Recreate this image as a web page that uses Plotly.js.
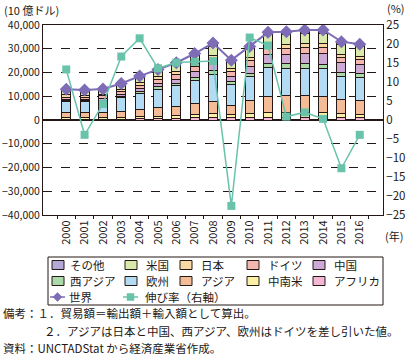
<!DOCTYPE html>
<html>
<head>
<meta charset="utf-8">
<script src="https://cdn.plot.ly/plotly-3.0.1.min.js"></script>
<style>html,body{margin:0;padding:0;background:#fff;}#chart{width:411px;height:360px;}</style>
</head>
<body>
<div id="chart"></div>
<script>
const years = ['2000','2001','2002','2003','2004','2005','2006','2007','2008','2009','2010','2011','2012','2013','2014','2015','2016'];
const africa   = [300,300,330,400,500,600,700,850,1100,900,1050,1150,1200,1150,1200,1050,950];
const latam    = [700,650,620,700,900,1050,1250,1450,1750,1300,1650,1950,2000,2000,1800,1650,1450];
const asia     = [2100,2000,2100,2400,3000,3500,3800,4500,4900,3900,5600,7000,7000,7000,6800,6000,5800];
const europe   = [4600,4700,4900,5900,6800,7900,8700,10000,11300,8800,9900,11800,11400,11600,11700,9800,9700];
const westAsia = [450,430,460,560,720,900,1050,1250,1600,1250,1450,1850,2000,2050,2000,1600,1600];
const china    = [475,510,620,850,1150,1420,1760,2170,2560,2210,2970,3640,3870,4160,4300,3960,3690];
const germany  = [1050,1060,1110,1350,1630,1750,2040,2380,2610,2050,2330,2740,2570,2650,2710,2380,2390];
const japan    = [860,750,750,855,1020,1110,1230,1330,1540,1130,1460,1680,1685,1550,1510,1270,1250];
const usa      = [2040,1870,1860,2030,2340,2630,2920,3180,3450,3000,3800,4300,4300,4300,4300,4100,4000];
const other    = [400,330,350,355,440,440,650,890,1590,660,690,790,1175,1440,1580,1190,1070];
const world    = [13000,12600,13100,15400,18500,21300,24100,28000,32400,25200,30900,36900,37200,37900,37900,33000,31900];
const growth   = [13.3,-3.9,4.2,16.7,21.5,13.6,15.1,15.3,15.5,-22.6,21.7,19.6,0.9,2.0,0.3,-12.7,-3.9];

const FONT = '"Noto Sans CJK JP", "Noto Sans", sans-serif';
const INK = '#231815';
const WORLD_C = '#7E6DB6', GROWTH_C = '#69C3AB';
// stacking order: bottom first
const barSeries = [
  {name:'アフリカ', y:africa,   color:'#F4B6D2'},
  {name:'中南米',   y:latam,    color:'#FBF1A6'},
  {name:'アジア',   y:asia,     color:'#F3BC96'},
  {name:'欧州',     y:europe,   color:'#B3DBF4'},
  {name:'西アジア', y:westAsia, color:'#ABD9A9'},
  {name:'中国',     y:china,    color:'#CDAAD5'},
  {name:'ドイツ',   y:germany,  color:'#F3B7B0'},
  {name:'日本',     y:japan,    color:'#F8D9A4'},
  {name:'米国',     y:usa,      color:'#D9E9AA'},
  {name:'その他',   y:other,    color:'#B3A9D8'}
];
const traces = barSeries.map(s => ({
  type:'bar', x:years, y:s.y, name:s.name, showlegend:false,
  marker:{color:s.color, line:{color:INK, width:1}}, hoverinfo:'skip'
}));
traces.push({
  type:'scatter', mode:'lines+markers', x:years, y:world, name:'世界', showlegend:false,
  line:{color:WORLD_C, width:2}, marker:{symbol:'diamond', size:10, color:WORLD_C}
});
traces.push({
  type:'scatter', mode:'lines+markers', x:years, y:growth, name:'伸び率（右軸）', showlegend:false,
  yaxis:'y2', line:{color:GROWTH_C, width:1.5}, marker:{symbol:'square', size:8, color:GROWTH_C}
});

const L=43, R=383, T=25, B=215;
const px = x => (x-L)/(R-L);
const py = y => (B-y)/(B-T);
const ann = (text, x, y, opts={}) => Object.assign({text, xref:'paper', yref:'paper', x:px(x), y:py(y),
  showarrow:false, xanchor:'left', yanchor:'middle', font:{family:FONT, size:11, color:INK}}, opts);

// manual legend (grid like the reference)
const shapes = [];
const annotations = [];
shapes.push({type:'rect', xref:'paper', yref:'paper', x0:px(48), x1:px(383), y0:py(257), y1:py(305),
  line:{color:INK, width:1}, fillcolor:'rgba(0,0,0,0)'});
const legendOrder = ['その他','米国','日本','ドイツ','中国','西アジア','欧州','アジア','中南米','アフリカ'];
const cols = [{s:52,t:68},{s:125,t:144},{s:180,t:199},{s:247,t:266},{s:313,t:332}];
const rows = [265, 281, 297];
legendOrder.forEach((nm, i) => {
  const s = barSeries.find(b => b.name === nm);
  const c = cols[i % 5], r = rows[Math.floor(i / 5)];
  shapes.push({type:'rect', xref:'paper', yref:'paper', x0:px(c.s), x1:px(c.s+12), y0:py(r+4.5), y1:py(r-4.5),
    line:{color:INK, width:1}, fillcolor:s.color});
  annotations.push(ann(nm, c.t, r, {font:{family:FONT, size:11.5, color:INK}}));
});
function lineItem(col, color, marker, label) {
  const r = rows[2], x0 = col.s - 2, x1 = col.s + 13, xc = (x0 + x1) / 2;
  shapes.push({type:'line', xref:'paper', yref:'paper', x0:px(x0), x1:px(x1), y0:py(r), y1:py(r),
    line:{color, width:1.5}});
  let path;
  if (marker === 'diamond') {
    path = `M ${px(xc)},${py(r-4.5)} L ${px(xc+4.5)},${py(r)} L ${px(xc)},${py(r+4.5)} L ${px(xc-4.5)},${py(r)} Z`;
  } else {
    path = `M ${px(xc-3.5)},${py(r-3.5)} L ${px(xc+3.5)},${py(r-3.5)} L ${px(xc+3.5)},${py(r+3.5)} L ${px(xc-3.5)},${py(r+3.5)} Z`;
  }
  shapes.push({type:'path', xref:'paper', yref:'paper', path, fillcolor:color, line:{color, width:0.5}});
  annotations.push(ann(label, col.t - 1, r, {font:{family:FONT, size:11.5, color:INK}}));
}
lineItem(cols[0], WORLD_C, 'diamond', '世界');
lineItem(cols[1], GROWTH_C, 'square', '伸び率（右軸）');

annotations.push(
  ann('(10 億ドル)', 2, 10),
  ann('(%)', 385, 8, {font:{family:FONT, size:11, color:INK}}),
  ann('(年)', 383, 236),
  ann('備考：１．貿易額＝輸出額＋輸入額として算出。', 1, 313, {font:{family:FONT, size:11.5, color:INK}}),
  ann('２．アジアは日本と中国、西アジア、欧州はドイツを差し引いた値。', 42, 331, {font:{family:FONT, size:11.5, color:INK}}),
  ann('資料：UNCTADStat から経済産業省作成。', 1, 348, {font:{family:FONT, size:11.5, color:INK}})
);

const layout = {
  width:411, height:360,
  margin:{l:L, r:411-R, t:T, b:360-B},
  paper_bgcolor:'#fff', plot_bgcolor:'#fff',
  barmode:'stack', bargap:0.5,
  font:{family:FONT, size:11, color:INK},
  showlegend:false,
  xaxis:{type:'category', tickangle:-90, showline:true, mirror:true, linecolor:INK, linewidth:1,
    ticks:'outside', tickson:'boundaries', ticklen:3, tickcolor:INK, showgrid:false,
    tickfont:{family:FONT, size:11, color:INK}, fixedrange:true},
  yaxis:{range:[-40000,40000], dtick:10000, tickformat:',', showline:true, linecolor:INK, linewidth:1,
    showgrid:true, gridcolor:INK, griddash:'dash', gridwidth:1,
    zeroline:true, zerolinecolor:INK, zerolinewidth:1.2, ticks:'', ticklabelstandoff:0,
    tickfont:{family:FONT, size:10.5, color:INK}},
  yaxis2:{range:[-25,25], dtick:5, overlaying:'y', side:'right', showline:true, linecolor:INK, linewidth:1,
    showgrid:false, zeroline:false, ticks:'', tickfont:{family:FONT, size:11.5, color:INK}},
  shapes, annotations
};
Plotly.newPlot('chart', traces, layout, {staticPlot:true, displayModeBar:false});
</script>
</body>
</html>
